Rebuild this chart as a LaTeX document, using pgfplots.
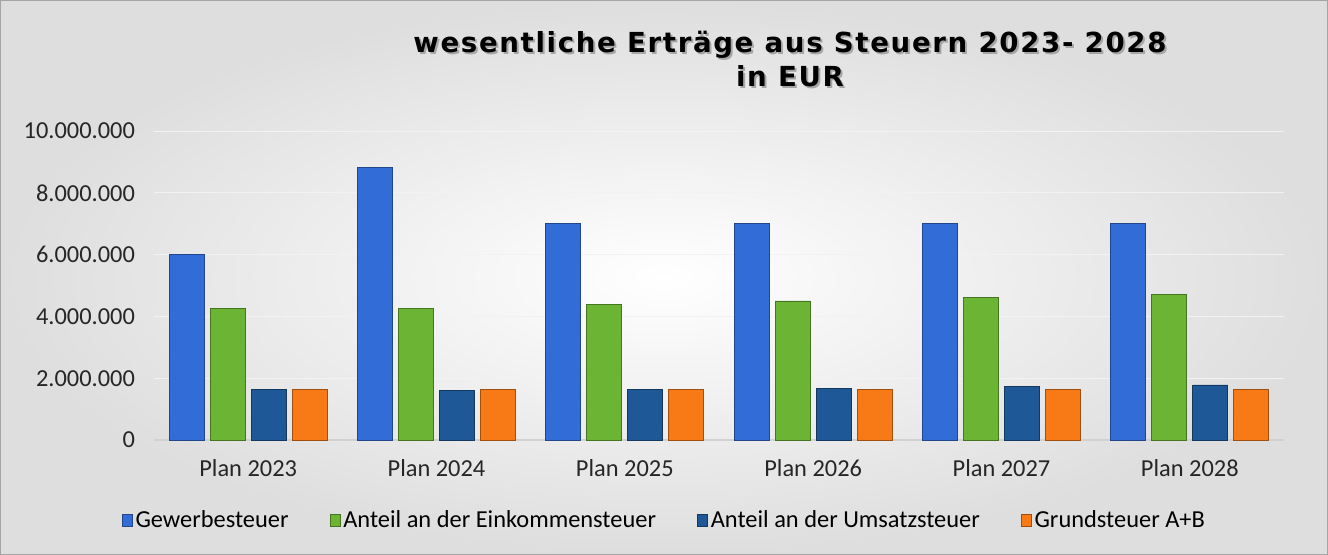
\documentclass[border=0pt]{standalone}
\usepackage{pgfplots}
\pgfplotsset{compat=1.18}
\usepackage{fontspec}
\setmainfont{Carlito}
\newfontfamily\titlefont[LetterSpace=6]{DejaVu Sans}
\definecolor{cA}{RGB}{50,108,214}
\definecolor{cB}{RGB}{108,180,52}
\definecolor{cC}{RGB}{30,88,150}
\definecolor{cD}{RGB}{248,122,22}
\newcommand\tf{\titlefont\bfseries\fontsize{13.8}{16}\selectfont}
\begin{document}
\begin{tikzpicture}
\shade[inner color=white, outer color=black!13] (0,0) rectangle (664pt,277.5pt);
\draw[black!35, line width=0.5pt] (0.25pt,0.25pt) rectangle (663.75pt,277.25pt);
\node[text=black!35, anchor=base] at (396pt,250.2pt) {\tf wesentliche Erträge aus Steuern 2023- 2028};
\node[text=black!35, anchor=base] at (396pt,233.2pt) {\tf in EUR};
\node[anchor=base] at (395pt,251pt) {\tf wesentliche Erträge aus Steuern 2023- 2028};
\node[anchor=base] at (395pt,234pt) {\tf in EUR};
\begin{axis}[
  at={(77pt,57.5pt)}, anchor=south west,
  scale only axis, width=565pt, height=154.5pt,
  ybar=3pt, bar width=17.5pt,
  xmin=-0.5, xmax=5.5, ymin=0, ymax=10000000,
  xtick=data, xticklabels={Plan 2023,Plan 2024,Plan 2025,Plan 2026,Plan 2027,Plan 2028},
  ytick={0,2000000,4000000,6000000,8000000,10000000},
  scaled y ticks=false,
  yticklabel style={xshift=-6pt, /pgf/number format/fixed, /pgf/number format/precision=0, /pgf/number format/1000 sep={.}, /pgf/number format/assume math mode=true},
  ticklabel style={font=\fontsize{12.2}{14}\selectfont, text=black!85},
  axis y line*=left, axis x line*=bottom,
  y axis line style={draw=none},
  x axis line style={black!18, line width=0.8pt, -},
  xtick style={draw=none}, ytick style={draw=none},
  ymajorgrids, major grid style={black!5},
  xticklabel style={yshift=-2pt},
  legend style={at={(0.452,-0.26)}, anchor=center, draw=none, fill=none,
    legend columns=-1, font=\fontsize{12.2}{14}\selectfont,
    /tikz/every even column/.append style={column sep=19pt},
    /tikz/every odd column/.append style={column sep=0pt},
    inner sep=0pt, nodes={inner xsep=1.5pt}},
  legend image code/.code={\fill[#1] (0pt,-3.2pt) rectangle (5pt,3.2pt);},
  clip=false,
]
\addplot[fill=cA, draw=cA!65!black] coordinates {(0,6000000) (1,8830000) (2,7000000) (3,7000000) (4,7000000) (5,7000000)};
\addplot[fill=cB, draw=cB!65!black] coordinates {(0,4270000) (1,4270000) (2,4400000) (3,4500000) (4,4600000) (5,4700000)};
\addplot[fill=cC, draw=cC!65!black] coordinates {(0,1650000) (1,1590000) (2,1650000) (3,1680000) (4,1720000) (5,1780000)};
\addplot[fill=cD, draw=cD!65!black] coordinates {(0,1650000) (1,1650000) (2,1650000) (3,1650000) (4,1650000) (5,1650000)};
\legend{Gewerbesteuer, Anteil an der Einkommensteuer, Anteil an der Umsatzsteuer, Grundsteuer A+B}
\end{axis}
\end{tikzpicture}
\end{document}
